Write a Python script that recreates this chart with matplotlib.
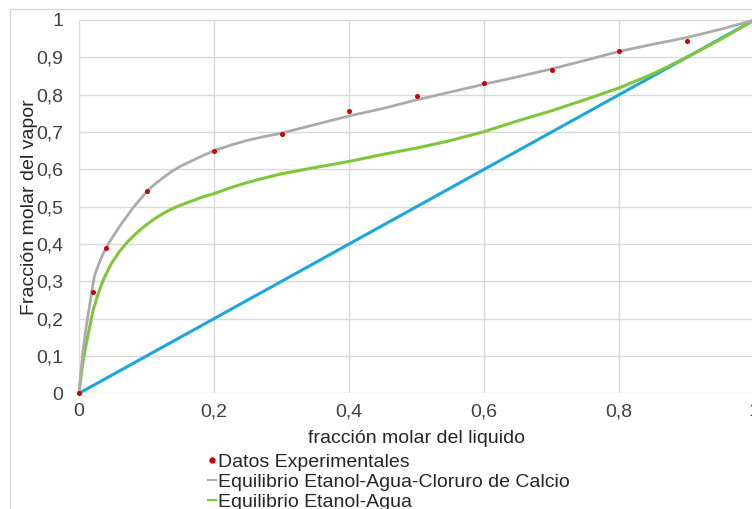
import matplotlib
matplotlib.use("Agg")
import matplotlib.pyplot as plt
from matplotlib.patches import Rectangle
from matplotlib.lines import Line2D

plt.rcParams['font.family'] = ['Liberation Sans', 'DejaVu Sans']

# Experimental data
x_exp = [0.0, 0.02, 0.04, 0.1, 0.2, 0.3, 0.4, 0.5, 0.6, 0.7, 0.8, 0.9]
y_exp = [0.0, 0.272, 0.39, 0.542, 0.65, 0.694, 0.755, 0.797, 0.831, 0.867, 0.917, 0.944]

# Equilibrio Etanol-Agua-Cloruro de Calcio (gray)
x_gray = [0, 0.003, 0.006, 0.01, 0.013, 0.017, 0.02, 0.023, 0.03, 0.036, 0.045, 0.06,
          0.08, 0.1, 0.11, 0.125, 0.137, 0.149, 0.165, 0.179, 0.2, 0.225, 0.25, 0.275,
          0.3, 0.35, 0.4, 0.45, 0.5,
          0.55, 0.6, 0.65, 0.7, 0.75, 0.8, 0.85, 0.9, 0.95, 1.0]
y_gray = [0, 0.06, 0.115, 0.17, 0.205, 0.25, 0.285, 0.315, 0.35, 0.375, 0.405, 0.447,
          0.497, 0.54, 0.557, 0.578, 0.594, 0.607, 0.621, 0.633, 0.65, 0.665, 0.678, 0.688,
          0.697, 0.72, 0.743, 0.763, 0.786,
          0.807, 0.828, 0.848, 0.869, 0.892, 0.916, 0.935, 0.953, 0.975, 1.0]

# Equilibrio Etanol-Agua (green)
x_green = [0, 0.003, 0.006, 0.011, 0.016, 0.021, 0.028, 0.036, 0.047, 0.06, 0.072, 0.085,
           0.098, 0.11, 0.122, 0.134, 0.145, 0.155, 0.174, 0.187, 0.2, 0.225, 0.25, 0.275,
           0.3, 0.35, 0.4, 0.45, 0.5, 0.55,
           0.6, 0.65, 0.7, 0.75, 0.8, 0.85, 0.9, 0.95, 1.0]
y_green = [0, 0.045, 0.085, 0.135, 0.18, 0.223, 0.265, 0.304, 0.345, 0.38, 0.406, 0.429,
           0.449, 0.465, 0.479, 0.491, 0.5, 0.507, 0.52, 0.528, 0.535, 0.551, 0.565, 0.577,
           0.588, 0.605, 0.621, 0.64, 0.657, 0.677,
           0.701, 0.73, 0.757, 0.787, 0.818, 0.856, 0.9, 0.948, 1.0]

# Diagonal y = x (blue)
x_diag = [0.0, 1.0]
y_diag = [0.0, 1.0]

x_ticks = [0, 0.2, 0.4, 0.6, 0.8, 1.0]
x_tick_labels = ['0', '0,2', '0,4', '0,6', '0,8', '1']
y_ticks = [0, 0.1, 0.2, 0.3, 0.4, 0.5, 0.6, 0.7, 0.8, 0.9, 1.0]
y_tick_labels = ['0', '0,1', '0,2', '0,3', '0,4', '0,5', '0,6', '0,7', '0,8', '0,9', '1']

W, H = 752, 509
fig = plt.figure(figsize=(W / 100, H / 100), dpi=100)
fig.patch.set_facecolor('white')

# outer chart frame
fig.patches.append(Rectangle((10 / W, -0.1), 1.2, 1 - 9 / H + 0.1,
                             transform=fig.transFigure, fill=False,
                             edgecolor='#d9d9d9', linewidth=1.0, zorder=0))

ax = fig.add_axes([79 / W, (H - 393.3) / H, 675.3 / W, 373.3 / H])
ax.set_xlim(0, 1)
ax.set_ylim(0, 1)
for s in ax.spines.values():
    s.set_visible(False)
ax.set_xticks(x_ticks)
ax.set_xticklabels(x_tick_labels)
ax.set_yticks(y_ticks)
ax.set_yticklabels(y_tick_labels)
ax.tick_params(axis='both', length=0, labelsize=14, colors='#404040')
ax.tick_params(axis='y', pad=11.5)
ax.tick_params(axis='x', pad=7)
ax.grid(True, color='#d9d9d9', linewidth=1.0)
ax.set_axisbelow(True)

ax.plot(x_diag, y_diag, color='#1ba6dc', linewidth=2.2, zorder=2, clip_on=False)
ax.plot(x_green, y_green, color='#7fc63a', linewidth=2.2, zorder=3, clip_on=False)
ax.plot(x_gray, y_gray, color='#ababab', linewidth=2.0, zorder=4, clip_on=False)
ax.scatter(x_exp, y_exp, s=13, color='#cc0000', zorder=5, clip_on=False, linewidths=0)

ax.set_xlabel('fracción molar del liquido', fontsize=14, color='#262626', labelpad=7.5)
ax.set_ylabel('Fracción molar del vapor', fontsize=14, color='#262626', labelpad=-1.5)

handles = [
    Line2D([], [], linestyle='none', marker='o', markersize=3.5, color='#cc0000'),
    Line2D([], [], color='#ababab', linewidth=1.5),
    Line2D([], [], color='#7fc63a', linewidth=1.5),
]
labels = ['Datos Experimentales', 'Equilibrio Etanol-Agua-Cloruro de Calcio',
          'Equilibrio Etanol-Agua']
fig.legend(handles, labels, loc='upper left', bbox_to_anchor=(208 / W, 1 - 453 / H),
           frameon=False, fontsize=14, handlelength=0.4, handletextpad=0.1,
           labelspacing=0.13, borderpad=0, borderaxespad=0, labelcolor='#262626')

fig.savefig('out.png', dpi=100)
